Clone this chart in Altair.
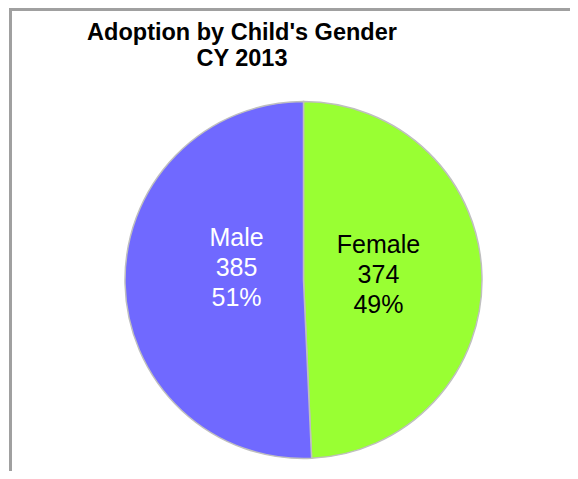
import altair as alt
import pandas as pd

categories = ["Female", "Male"]
counts = [374, 385]
percents = ["49%", "51%"]
slice_colors = ["#99FF33", "#7069FF"]
label_colors = ["#000000", "#FFFFFF"]
title_lines = ["Adoption by Child's Gender", "CY 2013"]

df = pd.DataFrame({"cat": categories, "count": counts, "pct": percents, "order": [0, 1]})
total = sum(counts)

W, H = 562, 463
cx, cy, R = 295.5, 272, 178.5
FONT = "Liberation Sans"

pie = alt.Chart(df).mark_arc(outerRadius=R, stroke="#BFBFBF", strokeWidth=1.5).encode(
    theta=alt.Theta("count:Q", stack=True),
    order=alt.Order("order:Q"),
    color=alt.Color("cat:N", scale=alt.Scale(domain=categories, range=slice_colors), legend=None),
    x=alt.value(cx),
    y=alt.value(cy),
)


def label_layer(cat, color, radius, dy):
    return alt.Chart(df).transform_window(
        cum="sum(count)", sort=[alt.SortField("order", order="ascending")], frame=[None, 0]
    ).transform_calculate(
        mid="datum.cum - datum.count / 2",
        label="datum.cat + '\\n' + datum.count + '\\n' + datum.pct",
    ).transform_filter(alt.datum.cat == cat).mark_text(
        radius=radius, fontSize=25, lineHeight=30, lineBreak="\n", font=FONT, dy=dy,
        align="center", baseline="middle", color=color,
    ).encode(
        theta=alt.Theta("mid:Q", stack=None, scale=alt.Scale(domain=[0, total])),
        text="label:N",
        x=alt.value(cx),
        y=alt.value(cy),
    )


label_f = label_layer(categories[0], label_colors[0], 75, -33)
label_m = label_layer(categories[1], label_colors[1], 67, -44)

title = alt.Chart(df).mark_text(
    font=FONT, fontSize=23.5, fontWeight="bold", lineHeight=26, align="center",
    baseline="alphabetic", color="#000000",
).encode(
    x=alt.value(234), y=alt.value(32), text=alt.value(title_lines)
).transform_filter(alt.datum.order == 0)

left_border = alt.Chart(df).mark_rule(color="#A0A0A0", strokeWidth=3).encode(
    x=alt.value(2.5), y=alt.value(0), y2=alt.value(H)
).transform_filter(alt.datum.order == 0)

top_border = alt.Chart(df).mark_rule(color="#A0A0A0", strokeWidth=3).encode(
    x=alt.value(1), x2=alt.value(W), y=alt.value(1.5)
).transform_filter(alt.datum.order == 0)

chart = alt.layer(left_border, top_border, pie, label_f, label_m, title).properties(
    width=W, height=H, autosize=alt.AutoSizeParams(type="none"), padding=0
).resolve_scale(theta="independent").configure_view(stroke=None)

chart.save("out.html", embed_options={"renderer": "svg", "actions": False})
